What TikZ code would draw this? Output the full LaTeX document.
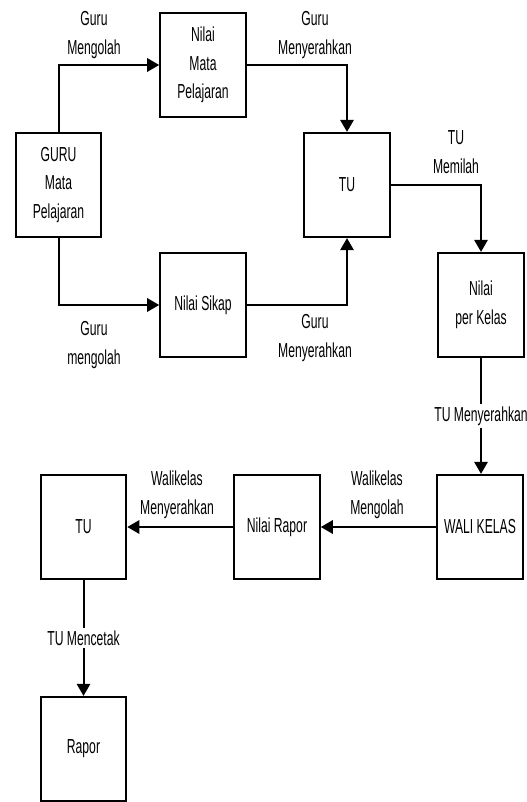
\documentclass[tikz,border=0pt]{standalone}
\usepackage{fontspec}
\setmainfont{Liberation Sans}[FakeStretch=0.6]
\usetikzlibrary{arrows.meta}
\begin{document}
\begin{tikzpicture}[x=0.75pt,y=-0.75pt,
  txt/.style={font=\fontsize{15.2}{21.5}\selectfont, align=center, inner sep=1pt},
  box/.style={txt, draw, line width=1.7pt, minimum width=64pt, minimum height=78pt, inner sep=0pt},
  arr/.style={line width=1.5pt, -{Triangle[length=9pt,width=10pt]}},
  lbl/.style={txt},
  cut/.style={txt, fill=white, inner sep=2pt}]
\useasboundingbox (0,0) rectangle (527,802);

% boxes
\node[box] (guru)  at (58.5,185) {GURU\\Mata\\Pelajaran};
\node[box] (nmp)   at (203,65)   {Nilai\\Mata\\Pelajaran};
\node[box] (sikap) at (203,305)  {Nilai Sikap};
\node[box] (tua)   at (347,185)  {TU};
\node[box] (npk)   at (481,305)  {Nilai\\per Kelas};
\node[box] (wali)  at (480,527)  {WALI KELAS};
\node[box] (nrap)  at (277,527)  {Nilai Rapor};
\node[box] (tub)   at (83.5,527) {TU};
\node[box] (rapor) at (83.5,749) {Rapor};

% connectors
\draw[arr] (guru.north) |- (nmp.west);
\draw[arr] (guru.south) |- (sikap.west);
\draw[arr] (nmp.east) -| (tua.north);
\draw[arr] (sikap.east) -| (tua.south);
\draw[arr] (tua.east) -| (npk.north);
\draw[arr] (npk.south) -- node[cut] {TU Menyerahkan} (npk.south |- wali.north);
\draw[arr] (wali.west) -- (nrap.east);
\draw[arr] (nrap.west) -- (tub.east);
\draw[arr] (tub.south) -- node[cut] {TU Mencetak} (rapor.north);

% flow labels
\node[lbl] (l1) at (94,35)   {Guru\\Mengolah};
\node[lbl] (l2) at (315,35)  {Guru\\Menyerahkan};
\node[lbl] (l3) at (456,152) {TU\\Memilah};
\node[lbl] (l4) at (94,345)  {Guru\\mengolah};
\node[lbl] (l5) at (315,338) {Guru\\Menyerahkan};
\node[lbl] (l6) at (177,495) {Walikelas\\Menyerahkan};
\node[lbl] (l7) at (377,495) {Walikelas\\Mengolah};
\end{tikzpicture}
\end{document}
